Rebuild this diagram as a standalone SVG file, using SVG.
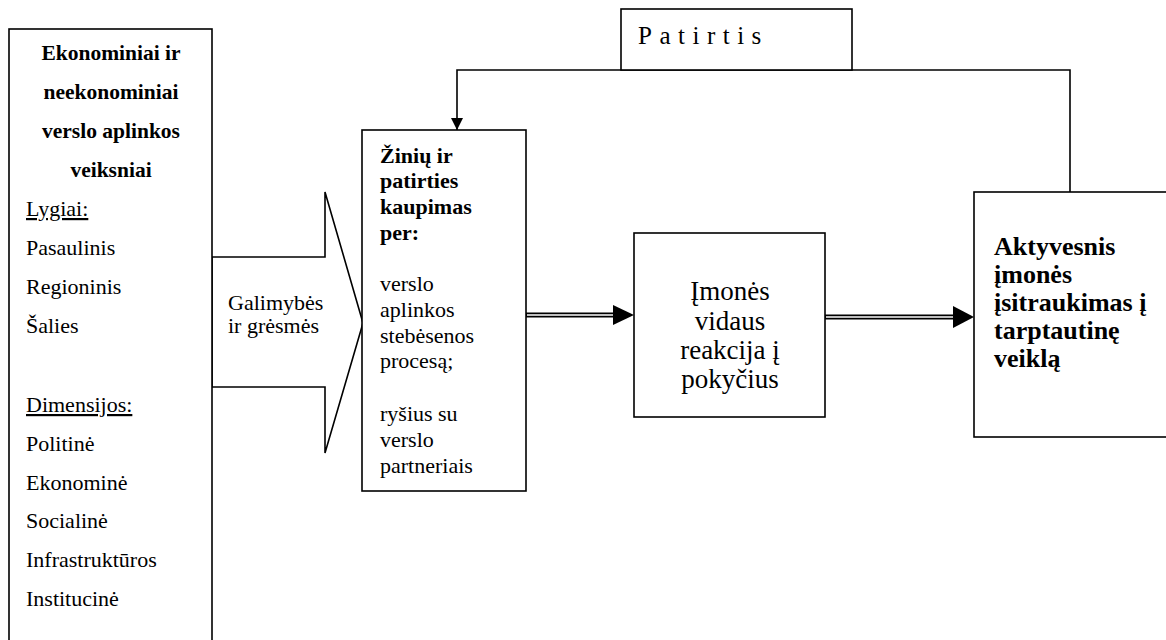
<svg xmlns="http://www.w3.org/2000/svg" width="1166" height="640" viewBox="0 0 1166 640">
  <style>
    .box { fill: #fff; stroke: #000; stroke-width: 1.6; }
    text { font-family: "Liberation Serif", "Times New Roman", "DejaVu Serif", serif; fill: #000; }
    .b { font-weight: bold; }
    .u { text-decoration: underline; }
    .wire { fill: none; stroke: #000; stroke-width: 1.6; }
    .dbl-outer { fill: none; stroke: #000; stroke-width: 5; }
    .dbl-inner { fill: none; stroke: #fff; stroke-width: 1.4; }
  </style>
  <defs>
    <marker id="tri" viewBox="0 0 12 12" refX="12" refY="6" markerWidth="12" markerHeight="12" markerUnits="userSpaceOnUse" orient="auto">
      <path d="M0,0 L12,6 L0,12 Z" fill="#000"/>
    </marker>
  </defs>
  <rect width="1166" height="640" fill="#fff"/>

  <!-- block arrow: opportunities and threats -->
  <g id="galimybes">
    <polygon class="box" points="212,257 325,257 325,192 363,323 325,453 325,387 212,387"/>
    <text font-size="22" x="228" y="310">Galimybės</text>
    <text font-size="22" x="228" y="333">ir grėsmės</text>
  </g>

  <!-- environment factors -->
  <g id="veiksniai">
    <rect class="box" x="9" y="29" width="203" height="620"/>
    <g class="b" font-size="21.5" text-anchor="middle">
      <text x="111" y="60">Ekonominiai ir</text>
      <text x="111" y="99">neekonominiai</text>
      <text x="111" y="138">verslo aplinkos</text>
      <text x="111" y="177">veiksniai</text>
    </g>
    <g font-size="22">
      <text class="u" x="26" y="216">Lygiai:</text>
      <text x="26" y="255">Pasaulinis</text>
      <text x="26" y="294">Regioninis</text>
      <text x="26" y="333">Šalies</text>
      <text class="u" x="26" y="412">Dimensijos:</text>
      <text x="26" y="451">Politinė</text>
      <text x="26" y="490">Ekonominė</text>
      <text x="26" y="528">Socialinė</text>
      <text x="26" y="567">Infrastruktūros</text>
      <text x="26" y="606">Institucinė</text>
    </g>
  </g>

  <!-- connectors -->
  <g id="connectors">
    <!-- experience feedback loop -->
    <polyline class="wire" points="1070,192 1070,70 457,70 457,130" marker-end="url(#tri)"/>
    <!-- double-line arrows -->
    <line class="dbl-outer" x1="526" y1="315" x2="616" y2="315"/>
    <line class="dbl-inner" x1="527" y1="315" x2="616" y2="315"/>
    <polygon points="613,305 634,315 613,325" fill="#000"/>
    <line class="dbl-outer" x1="825" y1="317" x2="956" y2="317"/>
    <line class="dbl-inner" x1="826" y1="317" x2="956" y2="317"/>
    <polygon points="953,306 974,317 953,328" fill="#000"/>
  </g>

  <!-- experience -->
  <g id="patirtis">
    <rect class="box" x="621" y="9" width="231" height="61"/>
    <text font-size="25" letter-spacing="7.5" x="638" y="44">Patirtis</text>
  </g>

  <!-- knowledge accumulation -->
  <g id="kaupimas">
    <rect class="box" x="362" y="130" width="164" height="361"/>
    <g class="b" font-size="22">
      <text x="380" y="163">Žinių ir</text>
      <text x="380" y="188">patirties</text>
      <text x="380" y="214">kaupimas</text>
      <text x="380" y="240">per:</text>
    </g>
    <g font-size="22">
      <text x="380" y="291">verslo</text>
      <text x="380" y="317">aplinkos</text>
      <text x="380" y="343">stebėsenos</text>
      <text x="380" y="368">procesą;</text>
      <text x="380" y="421">ryšius su</text>
      <text x="380" y="447">verslo</text>
      <text x="380" y="473">partneriais</text>
    </g>
  </g>

  <!-- internal reaction -->
  <g id="reakcija">
    <rect class="box" x="634" y="233" width="191" height="184"/>
    <g font-size="27" text-anchor="middle">
      <text x="730" y="300">Įmonės</text>
      <text x="730" y="330">vidaus</text>
      <text x="730" y="359">reakcija į</text>
      <text x="730" y="388">pokyčius</text>
    </g>
  </g>

  <!-- more active international involvement -->
  <g id="isitraukimas">
    <rect class="box" x="974" y="192" width="200" height="245"/>
    <g class="b" font-size="26">
      <text x="994" y="255">Aktyvesnis</text>
      <text x="994" y="283">įmonės</text>
      <text x="994" y="311">įsitraukimas į</text>
      <text x="994" y="339">tarptautinę</text>
      <text x="994" y="367">veiklą</text>
    </g>
  </g>
</svg>
